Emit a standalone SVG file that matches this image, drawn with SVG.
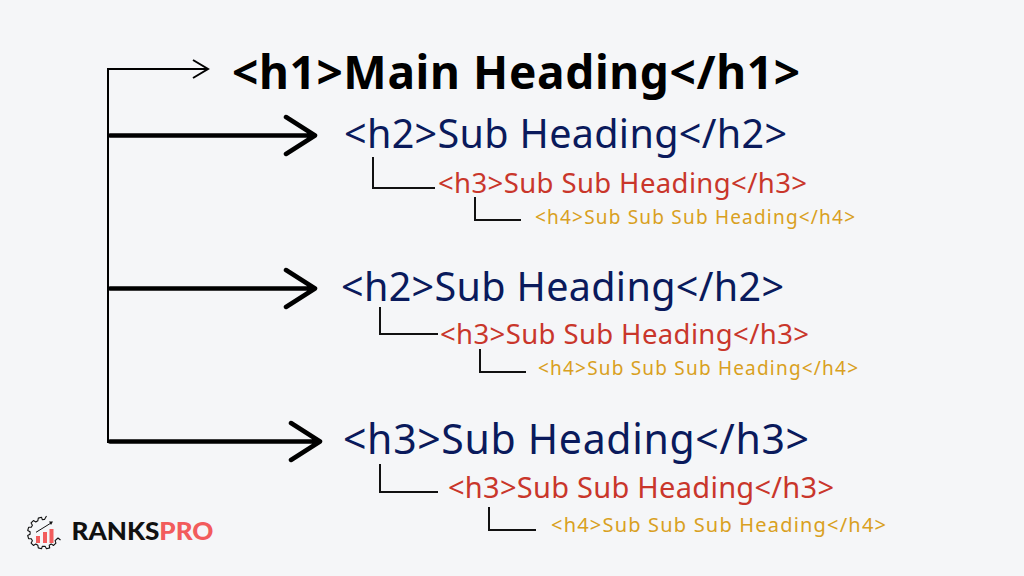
<svg xmlns="http://www.w3.org/2000/svg" width="1024" height="576" viewBox="0 0 1024 576">
<style>
text{font-family:"Noto Sans","Open Sans",sans-serif;white-space:pre}
.h1{font-size:46px;font-weight:700;fill:#000}
.h2{font-size:39.500px;fill:#0a1a5c}
.h3{font-size:27.500px;fill:#c9362b}
.h4{font-size:19px;fill:#d9a021}
.thin{fill:none;stroke:#111;stroke-width:2}
.med{fill:none;stroke:#000;stroke-width:2}
.thick{fill:none;stroke:#000;stroke-width:4.500;stroke-linecap:round;stroke-linejoin:round}
</style>
<rect width="1024" height="576" fill="#f5f6f8"/>
<g id="connectors">
<path class="med" d="M108 443V69H208M193 60L208 69L193 78"/>
<path class="thick" d="M110 135.500H315M286 117L315 135.500L286 154"/>
<path class="thick" d="M110 288.500H315M286 270L315 288.500L286 307"/>
<path class="thick" d="M110 441.500H320M291 423L320 441.500L291 460"/>
<path class="thin" d="M373 157V188H435"/>
<path class="thin" d="M475 197V220H521"/>
<path class="thin" d="M380 307V334H438"/>
<path class="thin" d="M480 349V372H526"/>
<path class="thin" d="M380 464V492H438"/>
<path class="thin" d="M489 507V530H536"/>
</g>
<g id="h1-main"><text class="h1" x="232" y="89" textLength="568">&lt;h1&gt;Main Heading&lt;/h1&gt;</text></g>
<g id="h2-a"><text class="h2" x="344" y="148" textLength="443">&lt;h2&gt;Sub Heading&lt;/h2&gt;</text></g>
<g id="h3-a"><text class="h3" x="438" y="193" textLength="369">&lt;h3&gt;Sub Sub Heading&lt;/h3&gt;</text></g>
<g id="h4-a"><text class="h4" x="535" y="224" textLength="320">&lt;h4&gt;Sub Sub Sub Heading&lt;/h4&gt;</text></g>
<g id="h2-b"><text class="h2" x="341" y="301" textLength="443">&lt;h2&gt;Sub Heading&lt;/h2&gt;</text></g>
<g id="h3-b"><text class="h3" x="440" y="344" textLength="369">&lt;h3&gt;Sub Sub Heading&lt;/h3&gt;</text></g>
<g id="h4-b"><text class="h4" x="538" y="375" textLength="320">&lt;h4&gt;Sub Sub Sub Heading&lt;/h4&gt;</text></g>
<g id="h3-c"><text class="h2" x="343" y="454" textLength="466" style="font-size:41px">&lt;h3&gt;Sub Heading&lt;/h3&gt;</text></g>
<g id="h3-d"><text class="h3" x="448" y="498" textLength="386" style="font-size:29px">&lt;h3&gt;Sub Sub Heading&lt;/h3&gt;</text></g>
<g id="h4-c"><text class="h4" x="551" y="532" textLength="335" style="font-size:20px">&lt;h4&gt;Sub Sub Sub Heading&lt;/h4&gt;</text></g>
<g id="logo">
<path fill="none" stroke="#111" stroke-width="1.100" stroke-linejoin="round" d="M46.500 516L44.500 519.500L42.300 519.600L41.500 517.200L38.300 518.100L37.800 520.800L35.800 521.900L33.400 520.600L31.100 522.900L32.400 525.300L31.300 527.300L28.600 527.300L27.700 530.500L30.100 531.800L30.100 534.200L27.700 535.500L28.600 538.700L31.300 538.700L32.400 540.700L31.100 543.100L33.400 545.400L35.800 544.100L37.800 545.200L38.300 547.900L41.500 548.800L42.300 546.400L45.200 546.400L46.500 548.800L49.700 547.900L49.200 545.200L51.200 544.100L53.600 545.400L55.900 543.100L55.100 540.700L58 538L60.500 540"/>
<path d="M36 532.300L51 523" fill="none" stroke="#111" stroke-width="1"/>
<path d="M49 521.500L53 521.500L51 525Z" fill="#111"/>
<path d="M36 536h4v7h-4zM43 532h4v11h-4zM49.500 529h4v14h-4z" fill="#f25c5c"/>
<text x="71.500" y="539.500" style="font-family:Lato,sans-serif;font-size:25px;font-weight:900" fill="#111" textLength="142" lengthAdjust="spacingAndGlyphs">RANKS<tspan fill="#f25c5c">PRO</tspan></text>
</g>
</svg>
